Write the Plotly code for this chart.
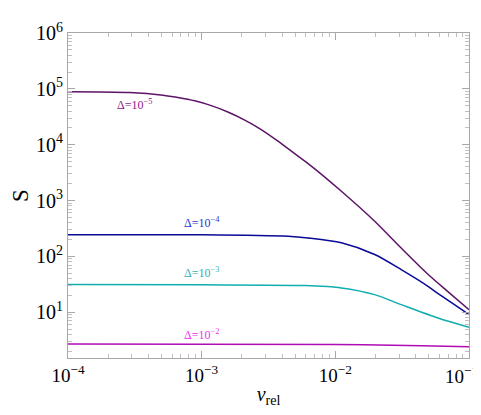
import plotly.graph_objects as go

# curve labels (Delta values)
labels = ["Δ=10<sup>−5</sup>", "Δ=10<sup>−4</sup>", "Δ=10<sup>−3</sup>", "Δ=10<sup>−2</sup>"]

# Delta = 1e-5
v_d5 = [1e-4, 2.9e-4, 5.14e-4, 6.65e-4, 8.87e-4, 1.18e-3, 1.57e-3, 2.10e-3, 2.79e-3,
        3.72e-3, 4.97e-3, 6.61e-3, 1.11e-2, 1.97e-2, 3.11e-2, 4.93e-2, 6.95e-2, 1e-1]
s_d5 = [8.9e4, 8.6e4, 7.7e4, 7.0e4, 6.1e4, 5.0e4, 3.85e4, 2.76e4, 1.87e4,
        1.16e4, 6.9e3, 4.15e3, 1.47e3, 427, 141, 47.9, 23.4, 11.1]

# Delta = 1e-4
v_d4 = [1e-4, 1e-3, 4.43e-3, 6.25e-3, 1.11e-2, 1.97e-2, 3.11e-2, 4.93e-2, 5.53e-2, 1e-1]
s_d4 = [245, 245, 230, 214, 175, 108, 58, 29.2, 23.8, 9.1]

# Delta = 1e-3
v_d3 = [1e-4, 1e-3, 5.9e-3, 1.11e-2, 1.97e-2, 3.11e-2, 5.86e-2, 1e-1]
s_d3 = [31.3, 31, 30, 27.3, 20.7, 13.7, 7.9, 5.4]

# Delta = 1e-2
v_d2 = [1e-4, 1e-2, 4.4e-2, 1e-1]
s_d2 = [2.7, 2.66, 2.52, 2.42]

x_ticks = [1e-4, 1e-3, 1e-2, 1e-1]
x_ticktext = ["10<sup>−4</sup>", "10<sup>−3</sup>", "10<sup>−2</sup>", "10<sup>−1</sup>"]
y_ticks = [1e1, 1e2, 1e3, 1e4, 1e5, 1e6]
y_ticktext = ["10<sup>1</sup>", "10<sup>2</sup>", "10<sup>3</sup>", "10<sup>4</sup>",
              "10<sup>5</sup>", "10<sup>6</sup>"]

# minor ticks at 2..9 of every decade
x_minor = [m * 10.0 ** e for e in range(-4, -1) for m in range(2, 10)]
y_minor = [m * 10.0 ** e for e in range(0, 6) for m in range(2, 10)]

line_colors = ["#5c1466", "#0a0a96", "#12adad", "#b00cb4"]
label_colors = ["#8b1a8b", "#3030d8", "#30b0b0", "#f030f0"]
tick_font = dict(family="Liberation Serif", size=19, color="black")

fig = go.Figure()
series = [(v_d5, s_d5), (v_d4, s_d4), (v_d3, s_d3), (v_d2, s_d2)]
for i, (v, s) in enumerate(series):
    fig.add_trace(go.Scatter(x=v, y=s, mode="lines", line_shape="spline",
                             line=dict(color=line_colors[i], width=1.5, smoothing=0.8),
                             showlegend=False, hoverinfo="skip"))

# empty trace so that the minor-tick axes are drawn
fig.add_trace(go.Scatter(x=[], y=[], xaxis="x2", yaxis="y2", showlegend=False))

# label positions in log10 units
label_pos = [(-3.5, 4.715), (-3.0, 2.60), (-3.0, 1.704), (-3.0, 0.593)]
for i, (lx, ly) in enumerate(label_pos):
    fig.add_annotation(x=lx, y=ly, text=labels[i], showarrow=False,
                       font=dict(family="Liberation Serif", size=12, color=label_colors[i]))

# last x tick label is pulled inside the page, like the original
fig.add_annotation(x=-1, y=0, xref="x", yref="paper", text=x_ticktext[-1],
                   showarrow=False, xanchor="right", yanchor="top", xshift=11, yshift=-3,
                   font=tick_font)

frame = "#a8a8a8"
axis_common = dict(type="log", showgrid=False, zeroline=False, showline=True,
                   linecolor=frame, linewidth=1, mirror="ticks", automargin=False,
                   ticks="inside", ticklen=7, tickcolor=frame)
minor_common = dict(type="log", showgrid=False, zeroline=False, showline=False,
                    mirror="ticks", automargin=False, ticks="inside", ticklen=4,
                    tickcolor="#c0c0c0", showticklabels=False)

fig.update_layout(
    width=481, height=415, plot_bgcolor="white", paper_bgcolor="white",
    margin=dict(l=60, r=20, t=25, b=65),
    xaxis=dict(range=[-4, -1], tickvals=x_ticks, ticktext=x_ticktext[:-1] + [""],
               tickfont=tick_font,
               title=dict(text="<i>v</i><sub>rel</sub>", standoff=2,
                          font=dict(family="Liberation Serif", size=20, color="black")),
               **axis_common),
    yaxis=dict(range=[0.181, 6], tickvals=y_ticks, ticktext=y_ticktext,
               tickfont=dict(family="Liberation Serif", size=20, color="black"),
               title=dict(text="S", standoff=6,
                          font=dict(family="Liberation Serif", size=23, color="black")),
               **axis_common),
    xaxis2=dict(range=[-4, -1], tickvals=x_minor, overlaying="x", anchor="y2", **minor_common),
    yaxis2=dict(range=[0.181, 6], tickvals=y_minor, overlaying="y", anchor="x2", **minor_common),
)

fig.write_html("out.html")
